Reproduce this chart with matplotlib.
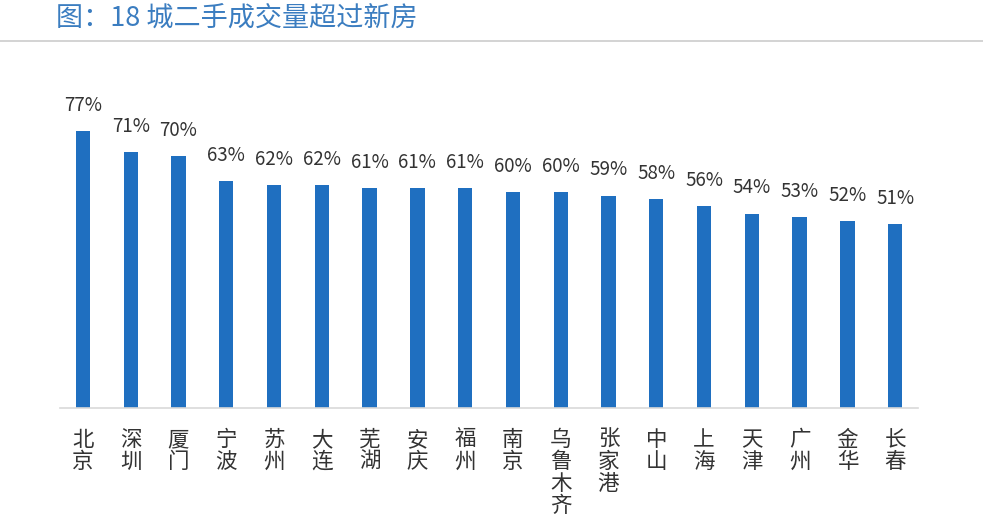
import matplotlib
matplotlib.use('Agg')
import matplotlib.pyplot as plt

plt.rcParams['font.family'] = ['Noto Sans CJK SC', 'DejaVu Sans']

# data
cities = ['北京', '深圳', '厦门', '宁波', '苏州', '大连', '芜湖', '安庆', '福州',
          '南京', '乌鲁木齐', '张家港', '中山', '上海', '天津', '广州', '金华', '长春']
share = [77, 71, 70, 63, 62, 62, 61, 61, 61, 60, 60, 59, 58, 56, 54, 53, 52, 51]

title = '图：18 城二手成交量超过新房'

fig = plt.figure(figsize=(9.83, 5.28), dpi=100)
ax = fig.add_axes([0.061, 0.227, 0.873, 0.621])

x = list(range(len(cities)))
ax.bar(x, share, width=0.3, color='#1F6FC0')
for xi, v in zip(x, share):
    ax.text(xi, v + 4.2, f'{v}%', ha='center', va='bottom', fontsize=13.5, color='#333333')

ax.set_xlim(-0.48, len(cities) - 0.52)
ax.set_ylim(0, 91)
ax.set_yticks([])
ax.set_xticks(x)
ax.set_xticklabels(['\n'.join(c) for c in cities], fontsize=15.5, color='#333333',
                   linespacing=1.0, va='top')
ax.tick_params(axis='x', length=0, pad=15)
for s in ['top', 'right', 'left']:
    ax.spines[s].set_visible(False)
ax.spines['bottom'].set_color('#D9D9D9')
ax.spines['bottom'].set_linewidth(1.2)

fig.text(0.057, 0.966, title, fontsize=19.5, color='#3B7DC0', ha='left', va='center')
fig.add_artist(plt.Line2D([0, 1], [0.922, 0.922], transform=fig.transFigure,
                          color='#CCCCCC', linewidth=1.2))

fig.savefig('out.png', dpi=100)
